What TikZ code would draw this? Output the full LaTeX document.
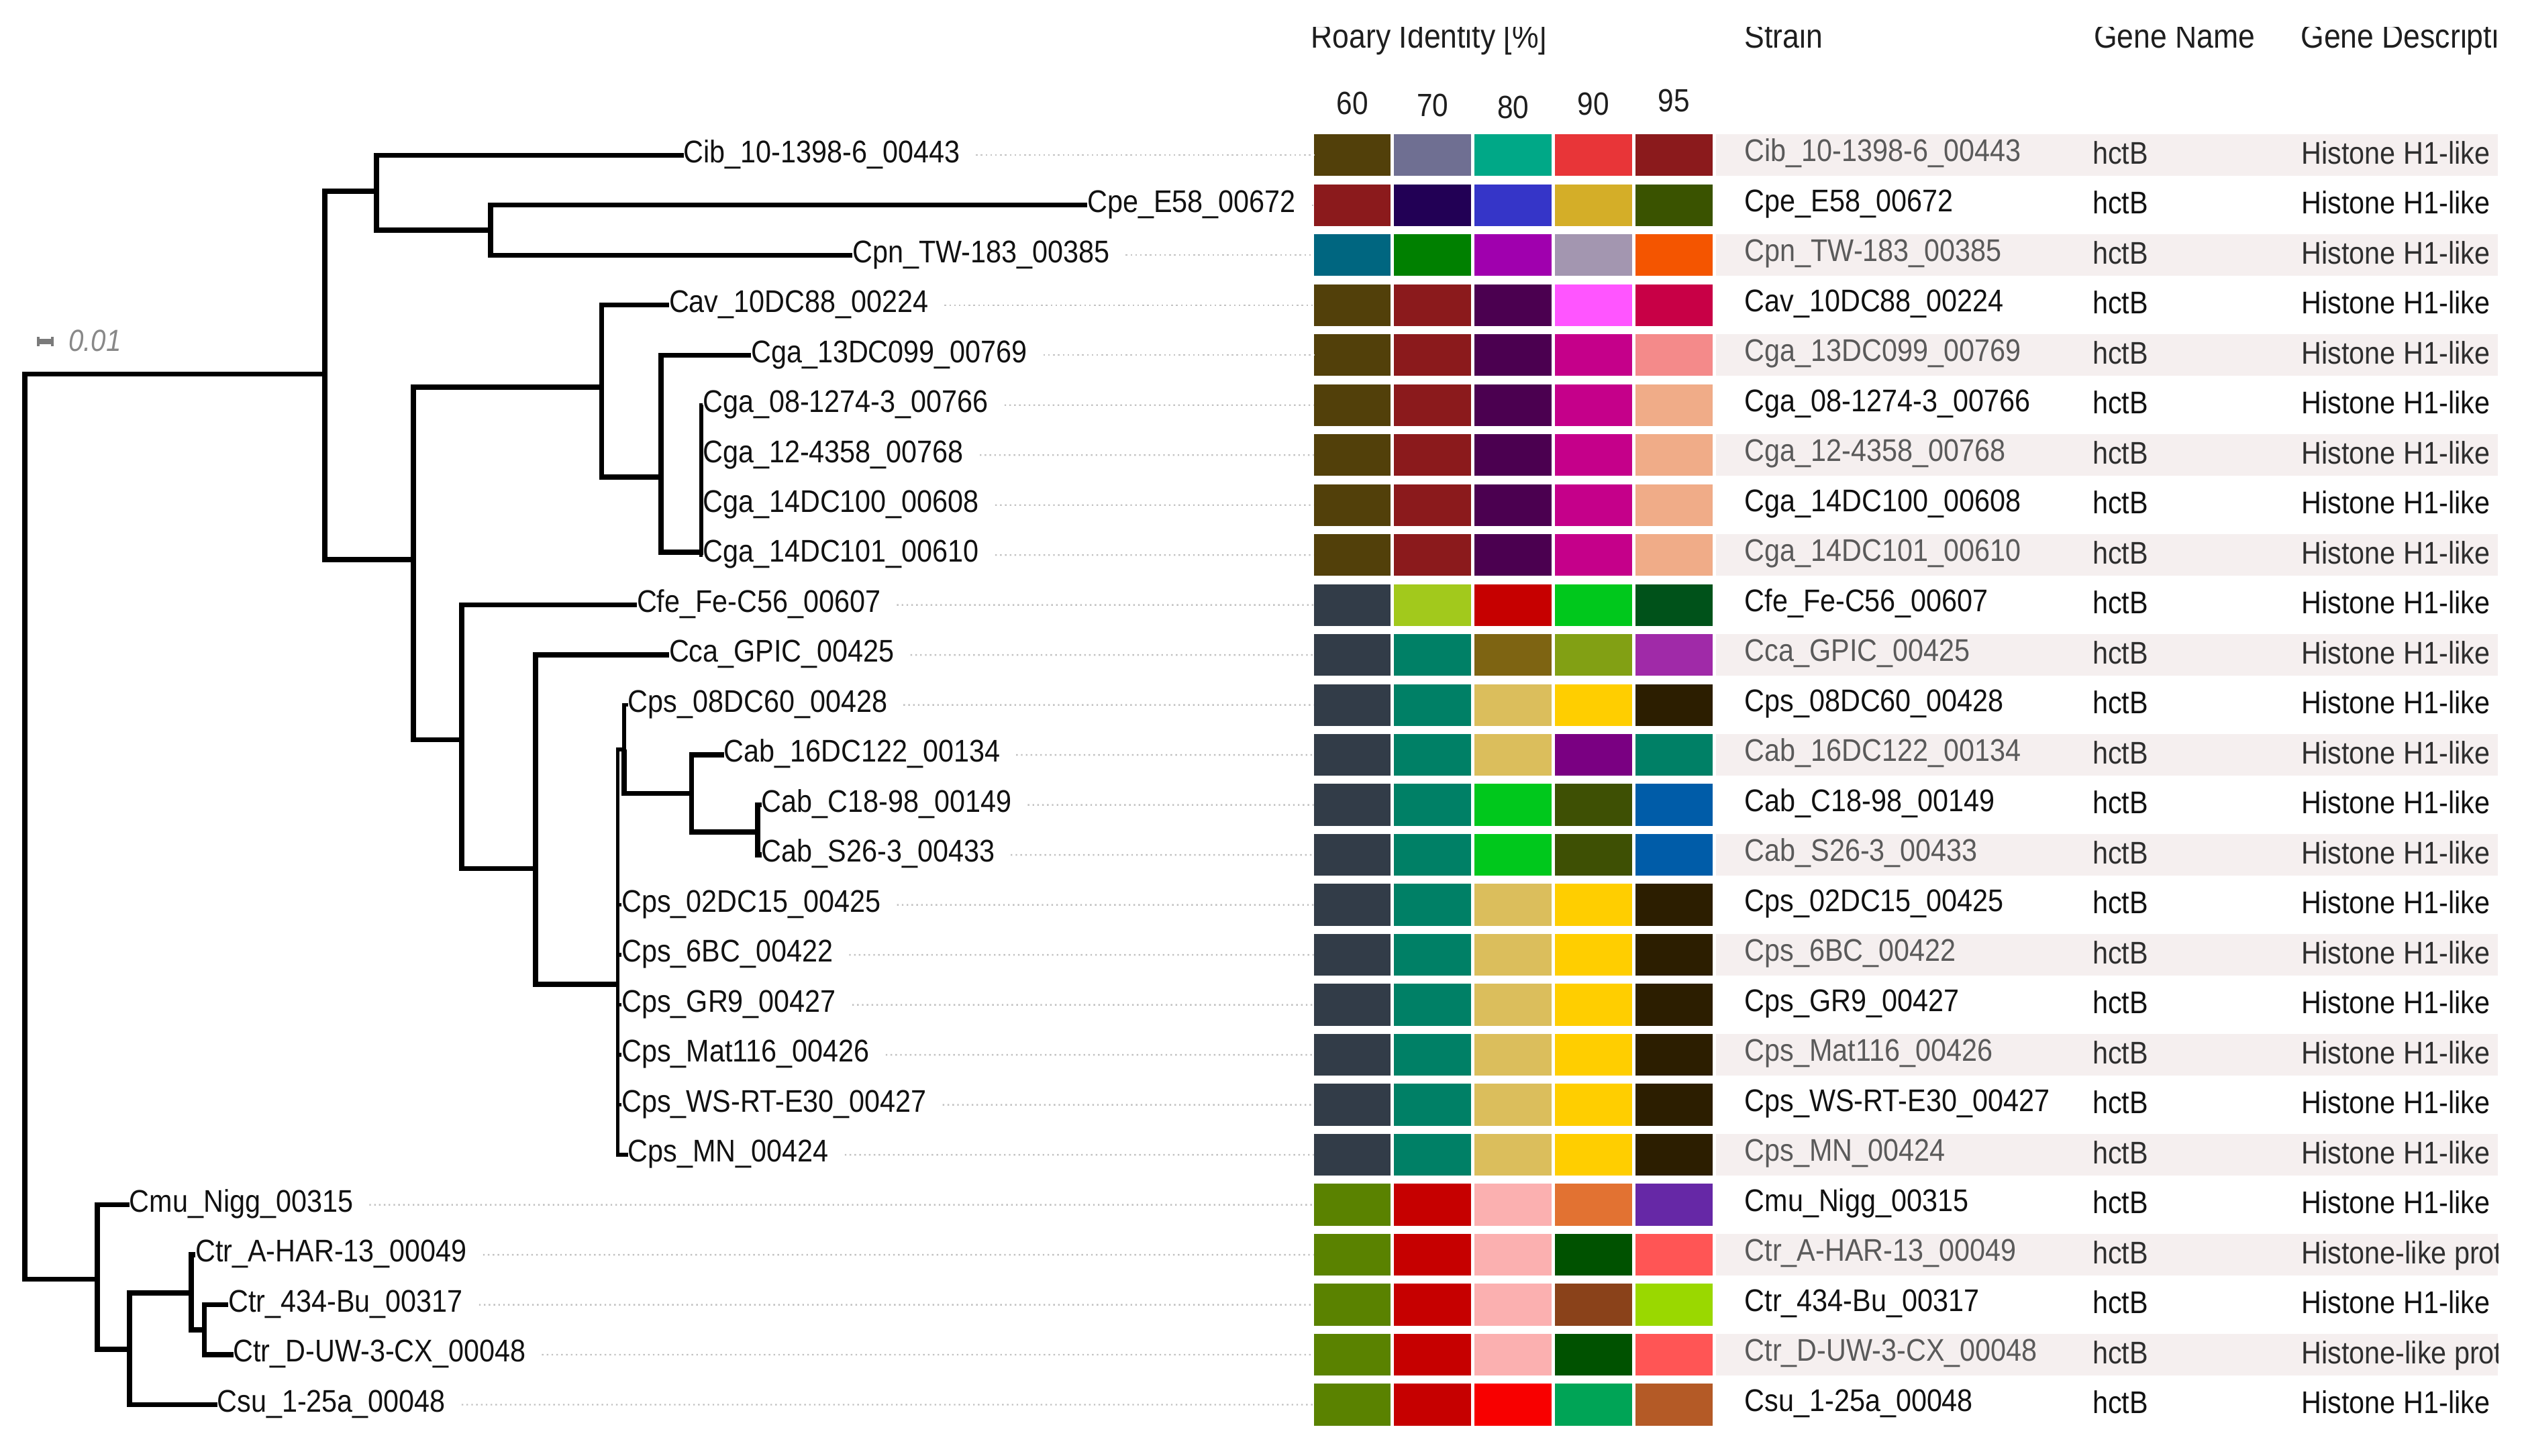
\documentclass[tikz,border=0pt]{standalone}
\usepackage{fontspec}
\setmainfont{Liberation Sans}[FakeStretch=0.885]
\definecolor{olv}{HTML}{52400A}\definecolor{slt}{HTML}{6F6F92}\definecolor{tea}{HTML}{00A887}
\definecolor{rda}{HTML}{E83538}\definecolor{drd}{HTML}{8B1A1C}\definecolor{ind}{HTML}{220055}
\definecolor{blu}{HTML}{3535C8}\definecolor{gld}{HTML}{D4AE28}\definecolor{dog}{HTML}{3A5300}
\definecolor{tbl}{HTML}{006680}\definecolor{grn}{HTML}{008000}\definecolor{pur}{HTML}{A000AE}
\definecolor{lil}{HTML}{A396B0}\definecolor{org}{HTML}{F45500}\definecolor{dpu}{HTML}{4B0050}
\definecolor{pnk}{HTML}{FF55FF}\definecolor{crm}{HTML}{C80046}\definecolor{mag}{HTML}{C5008A}
\definecolor{sal}{HTML}{F48A8A}\definecolor{pch}{HTML}{F0AC88}\definecolor{dsl}{HTML}{323C48}
\definecolor{lim}{HTML}{A2C91C}\definecolor{rdb}{HTML}{C60000}\definecolor{grb}{HTML}{00C81C}
\definecolor{dgr}{HTML}{00521A}\definecolor{tgr}{HTML}{008066}\definecolor{obr}{HTML}{7E6412}
\definecolor{ogr}{HTML}{82A014}\definecolor{pub}{HTML}{A02AA8}\definecolor{snd}{HTML}{DBBE5C}
\definecolor{yel}{HTML}{FFCE00}\definecolor{dbr}{HTML}{2C1E00}\definecolor{puc}{HTML}{7A0082}
\definecolor{dol}{HTML}{3E5004}\definecolor{blb}{HTML}{005CA8}\definecolor{ogn}{HTML}{5A8200}
\definecolor{lpk}{HTML}{FBB0B0}\definecolor{orb}{HTML}{E27232}\definecolor{pud}{HTML}{6628A6}
\definecolor{dgb}{HTML}{005200}\definecolor{cor}{HTML}{FF5555}\definecolor{brn}{HTML}{8A421A}
\definecolor{lib}{HTML}{9AD800}\definecolor{rdc}{HTML}{F80000}\definecolor{grc}{HTML}{00A456}
\definecolor{bro}{HTML}{B45A26}
\definecolor{tblack}{HTML}{111111}\definecolor{sgray}{HTML}{5A5A5A}\definecolor{ggray}{HTML}{2E2E2E}
\definecolor{rowshade}{HTML}{F5EFEF}\definecolor{ldr}{HTML}{C2C2C2}\definecolor{scgray}{HTML}{888888}
\definecolor{hdrc}{HTML}{1E1E1E}
\begin{document}
\begin{tikzpicture}[x=1pt,y=-1pt,
  br/.style={line width=3.1pt,draw=black},
  brt/.style={line width=2.2pt,draw=black},
  tl/.style={font=\fontsize{19.5}{22}\selectfont,inner sep=0pt,outer sep=0pt,anchor=west,text height=14.5pt,text depth=5.5pt,text=tblack},
  tt/.style={font=\fontsize{19.5}{22}\selectfont,inner sep=0pt,outer sep=0pt,anchor=west,text height=14.5pt,text depth=6.5pt},
  cell/.style={anchor=west,minimum width=47.9pt,minimum height=26pt,inner sep=0pt,outer sep=0pt,draw=none},
  leader/.style={draw=ldr,line width=1pt,dash pattern=on 1pt off 2pt},
  hdr/.style={font=\fontsize{21}{24}\selectfont,inner sep=0pt,anchor=base west,text=hdrc},
  num/.style={font=\fontsize{20}{24}\selectfont,inner sep=0pt,anchor=base,text=hdrc}]
\useasboundingbox (0,0) rectangle (1568,905);

% row shading
\foreach \r in {0,2,...,24}{
  \pgfmathsetmacro\yy{96.5+31.08*\r}
  \fill[rowshade] (1067,{\yy-13}) rectangle (1553,{\yy+13});
}

% headers
\begin{scope}
\clip (800,16.7) rectangle (1553,100);
\node[hdr] (hroary) at (815,30) {Roary Identity [\%]};
\node[hdr] (hstrain) at (1084.4,30) {Strain};
\node[hdr] (hgene) at (1301.7,30) {Gene Name};
\node[hdr] (hdesc) at (1430.3,30) {Gene Descripti};
\end{scope}
\node[num] (p60) at (840.75,71) {60};
\node[num] (p70) at (890.75,72.3) {70};
\node[num] (p80) at (940.75,73.7) {80};
\node[num] (p90) at (990.75,71.6) {90};
\node[num] (p95) at (1040.75,69.5) {95};

% colour cells
\foreach \r/\ca/\cb/\cc/\cd/\ce in {
 0/olv/slt/tea/rda/drd, 1/drd/ind/blu/gld/dog, 2/tbl/grn/pur/lil/org,
 3/olv/drd/dpu/pnk/crm, 4/olv/drd/dpu/mag/sal, 5/olv/drd/dpu/mag/pch,
 6/olv/drd/dpu/mag/pch, 7/olv/drd/dpu/mag/pch, 8/olv/drd/dpu/mag/pch,
 9/dsl/lim/rdb/grb/dgr, 10/dsl/tgr/obr/ogr/pub, 11/dsl/tgr/snd/yel/dbr,
 12/dsl/tgr/snd/puc/tgr, 13/dsl/tgr/grb/dol/blb, 14/dsl/tgr/grb/dol/blb,
 15/dsl/tgr/snd/yel/dbr, 16/dsl/tgr/snd/yel/dbr, 17/dsl/tgr/snd/yel/dbr,
 18/dsl/tgr/snd/yel/dbr, 19/dsl/tgr/snd/yel/dbr, 20/dsl/tgr/snd/yel/dbr,
 21/ogn/rdb/lpk/orb/pud, 22/ogn/rdb/lpk/dgb/cor, 23/ogn/rdb/lpk/brn/lib,
 24/ogn/rdb/lpk/dgb/cor, 25/ogn/rdb/rdc/grc/bro}{
  \pgfmathsetmacro\yy{96.5+31.08*\r}
  \foreach \c/\col in {1/\ca,2/\cb,3/\cc,4/\cd,5/\ce}{
    \node[cell,fill=\col] (b\r-\c) at ({816.8+50*(\c-1)},\yy) {};
  }
}

% table text
\begin{scope}
\clip (1060,80) rectangle (1553,905);
\foreach \r/\s/\d in {
 0/Cib\_10-1398-6\_00443/Histone H1-like, 1/Cpe\_E58\_00672/Histone H1-like,
 2/Cpn\_TW-183\_00385/Histone H1-like, 3/Cav\_10DC88\_00224/Histone H1-like,
 4/Cga\_13DC099\_00769/Histone H1-like, 5/Cga\_08-1274-3\_00766/Histone H1-like,
 6/Cga\_12-4358\_00768/Histone H1-like, 7/Cga\_14DC100\_00608/Histone H1-like,
 8/Cga\_14DC101\_00610/Histone H1-like, 9/Cfe\_Fe-C56\_00607/Histone H1-like,
 10/Cca\_GPIC\_00425/Histone H1-like, 11/Cps\_08DC60\_00428/Histone H1-like,
 12/Cab\_16DC122\_00134/Histone H1-like, 13/Cab\_C18-98\_00149/Histone H1-like,
 14/Cab\_S26-3\_00433/Histone H1-like, 15/Cps\_02DC15\_00425/Histone H1-like,
 16/Cps\_6BC\_00422/Histone H1-like, 17/Cps\_GR9\_00427/Histone H1-like,
 18/Cps\_Mat116\_00426/Histone H1-like, 19/Cps\_WS-RT-E30\_00427/Histone H1-like,
 20/Cps\_MN\_00424/Histone H1-like, 21/Cmu\_Nigg\_00315/Histone H1-like,
 22/Ctr\_A-HAR-13\_00049/Histone-like prot, 23/Ctr\_434-Bu\_00317/Histone H1-like,
 24/Ctr\_D-UW-3-CX\_00048/Histone-like prot, 25/Csu\_1-25a\_00048/Histone H1-like}{
  \pgfmathsetmacro\yy{96.5+31.08*\r}
  \ifodd\r \def\tc{tblack}\def\gc{tblack}\else\def\tc{sgray}\def\gc{ggray}\fi
  \node[tt,text=\tc] (S\r) at (1084.7,\yy) {\s};
  \node[tt,text=\gc] (G\r) at (1301,{\yy+1.5}) {hctB};
  \node[tt,text=\gc] (D\r) at (1431,{\yy+1.5}) {\d};
}
\end{scope}

% leaves
\node[tl] (L0) at (425,96.5) {Cib\_10-1398-6\_00443};
\node[tl] (L1) at (676,127.58) {Cpe\_E58\_00672};
\node[tl] (L2) at (530,158.66) {Cpn\_TW-183\_00385};
\node[tl] (L3) at (416,189.74) {Cav\_10DC88\_00224};
\node[tl] (L4) at (467,220.82) {Cga\_13DC099\_00769};
\node[tl] (L5) at (437,251.9) {Cga\_08-1274-3\_00766};
\node[tl] (L6) at (437,282.98) {Cga\_12-4358\_00768};
\node[tl] (L7) at (437,314.06) {Cga\_14DC100\_00608};
\node[tl] (L8) at (437,345.14) {Cga\_14DC101\_00610};
\node[tl] (L9) at (396,376.22) {Cfe\_Fe-C56\_00607};
\node[tl] (L10) at (416,407.3) {Cca\_GPIC\_00425};
\node[tl] (L11) at (390.5,438.38) {Cps\_08DC60\_00428};
\node[tl] (L12) at (450,469.46) {Cab\_16DC122\_00134};
\node[tl] (L13) at (473.5,500.54) {Cab\_C18-98\_00149};
\node[tl] (L14) at (473.5,531.62) {Cab\_S26-3\_00433};
\node[tl] (L15) at (386.5,562.7) {Cps\_02DC15\_00425};
\node[tl] (L16) at (386.5,593.78) {Cps\_6BC\_00422};
\node[tl] (L17) at (386.5,624.86) {Cps\_GR9\_00427};
\node[tl] (L18) at (386.5,655.94) {Cps\_Mat116\_00426};
\node[tl] (L19) at (386.5,687.02) {Cps\_WS-RT-E30\_00427};
\node[tl] (L20) at (390.5,718.1) {Cps\_MN\_00424};
\node[tl] (L21) at (80.5,749.18) {Cmu\_Nigg\_00315};
\node[tl] (L22) at (121.5,780.26) {Ctr\_A-HAR-13\_00049};
\node[tl] (L23) at (142,811.34) {Ctr\_434-Bu\_00317};
\node[tl] (L24) at (145,842.42) {Ctr\_D-UW-3-CX\_00048};
\node[tl] (L25) at (135,873.5) {Csu\_1-25a\_00048};

% dotted leaders
\foreach \r in {0,...,25}{
  \draw[leader] ([xshift=10pt]L\r.east) -- (b\r-1.west);
}

% internal nodes
\coordinate (root) at (15.5,514);
\coordinate (nA) at (202,232.5);
\coordinate (nB) at (234,118.9);
\coordinate (nP) at (305,143.1);
\coordinate (nC) at (257,348);
\coordinate (nCav) at (374,240.8);
\coordinate (nCga) at (411,296.6);
\coordinate (nCgaP) at (436,343.3);
\coordinate (nCfe) at (287,460);
\coordinate (nCca) at (333,540);
\coordinate (nPs) at (384,612);
\coordinate (nPsB) at (388,466);
\coordinate (nCab) at (430,493.5);
\coordinate (nCabC) at (471,517.4);
\coordinate (nBot) at (60.5,795.5);
\coordinate (nBotB) at (80.5,839);
\coordinate (nCtr) at (119,804);
\coordinate (nCtrB) at (127,827);

% branches
\draw[br] (root) |- (nA);
\draw[br] (root) |- (nBot);
\draw[br] (nA) |- (nB);
\draw[br] (nA) |- (nC);
\draw[br] (nB) |- (L0.west);
\draw[br] (nB) |- (nP);
\draw[br] (nP) |- (L1.west);
\draw[br] (nP) |- (L2.west);
\draw[br] (nC) |- (nCav);
\draw[br] (nC) |- (nCfe);
\draw[br] (nCav) |- (L3.west);
\draw[br] (nCav) |- (nCga);
\draw[br] (nCga) |- (L4.west);
\draw[br] (nCga) |- (nCgaP);
\foreach \k in {5,6,7,8}{\draw[brt] (nCgaP) |- (L\k.west);}
\draw[br] (nCfe) |- (L9.west);
\draw[br] (nCfe) |- (nCca);
\draw[br] (nCca) |- (L10.west);
\draw[br] (nCca) |- (nPs);
\draw[brt] (nPs) |- (nPsB);
\foreach \k in {15,...,20}{\draw[brt] (nPs) |- (L\k.west);}
\draw[brt] (nPsB) |- (L11.west);
\draw[br] (nPsB) |- (nCab);
\draw[br] (nCab) |- (L12.west);
\draw[br] (nCab) |- (nCabC);
\draw[br] (nCabC) |- (L13.west);
\draw[br] (nCabC) |- (L14.west);
\draw[br] (nBot) |- (L21.west);
\draw[br] (nBot) |- (nBotB);
\draw[br] (nBotB) |- (nCtr);
\draw[br] (nBotB) |- (L25.west);
\draw[br] (nCtr) |- (L22.west);
\draw[br] (nCtr) |- (nCtrB);
\draw[br] (nCtrB) |- (L23.west);
\draw[br] (nCtrB) |- (L24.west);

% scale bar
\draw[scgray!90!black,line width=3.2pt] (23.5,212.4) -- (33,212.4);
\draw[scgray!90!black,line width=1.6pt] (23.8,209.4) -- (23.8,215.4);
\draw[scgray!90!black,line width=1.6pt] (32.7,209.4) -- (32.7,215.4);
\node[inner sep=0pt,anchor=base west,text=scgray,font=\itshape\fontsize{19}{22}\selectfont] (scale) at (42.4,218.3) {0.01};
\end{tikzpicture}
\end{document}
